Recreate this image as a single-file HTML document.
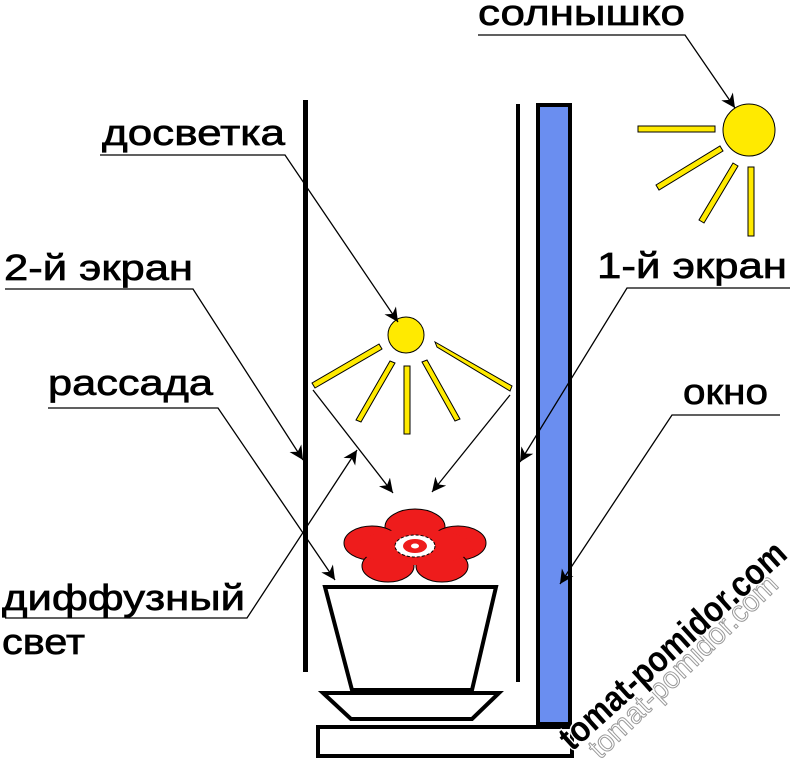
<!DOCTYPE html>
<html><head><meta charset="utf-8"><style>
html,body{margin:0;padding:0;background:#fff;}
svg{display:block;}
text{font-family:"Liberation Sans","DejaVu Sans",sans-serif;fill:#000;}
</style></head><body>
<svg width="790" height="760" viewBox="0 0 790 760" xmlns="http://www.w3.org/2000/svg">
<defs>
<marker id="a" viewBox="0 0 10 10" refX="10" refY="5" markerWidth="14" markerHeight="14" markerUnits="userSpaceOnUse" orient="auto">
<path d="M0,0 L10,5 L0,10 L3,5 z" fill="#000"/>
</marker>
</defs>
<!-- screens -->
<rect x="303" y="100" width="5" height="572" fill="#000"/>
<rect x="516" y="104" width="4" height="578" fill="#000"/>
<!-- window -->
<rect x="538" y="105" width="32" height="619" fill="#6a8ef0" stroke="#000" stroke-width="4"/>
<!-- sill -->
<rect x="318" y="727" width="254" height="29" fill="#fff" stroke="#000" stroke-width="4"/>
<!-- pot -->
<polygon points="325,587 496,587 472,690 352,690" fill="#fff" stroke="#000" stroke-width="4"/>
<polygon points="323,693 499,693 472,719 351,719" fill="#fff" stroke="#000" stroke-width="4"/>
<!-- flower -->
<g fill="#ee1c1c" stroke="#000" stroke-width="1">
<ellipse cx="415" cy="527" rx="30" ry="18"/>
<ellipse cx="372" cy="543" rx="28" ry="17"/>
<ellipse cx="458" cy="543" rx="28" ry="17"/>
<ellipse cx="388" cy="566" rx="26" ry="16"/>
<ellipse cx="442" cy="566" rx="26" ry="16"/>
</g>
<ellipse cx="415" cy="547" rx="58" ry="18" fill="#ee1c1c"/>
<ellipse cx="415" cy="546" rx="20" ry="11" fill="#fff" stroke="#000" stroke-width="1" stroke-dasharray="3 2"/>
<ellipse cx="415" cy="546" rx="12" ry="7" fill="#ee1c1c"/>
<ellipse cx="415" cy="546" rx="4" ry="2.5" fill="#fff"/>
<!-- small sun -->
<g fill="#ffea00" stroke="#000" stroke-width="1">
<circle cx="406" cy="335" r="18"/>
<polygon points="379,344 382,349 315,388 312,383"/>
<polygon points="390,361 395,363 361,422 356,420"/>
<rect x="404" y="366" width="6" height="68"/>
<polygon points="422,362 427,360 460,419 455,421"/>
<polygon points="435,342 437,347 510,391 512,386"/>
</g>
<!-- big sun -->
<g fill="#ffea00" stroke="#000" stroke-width="1">
<circle cx="749" cy="130" r="26"/>
<rect x="638" y="126" width="77" height="6"/>
<polygon points="720,146 723,151 659,190 656,185"/>
<polygon points="733,163 738,166 704,223 699,220"/>
<rect x="748" y="167" width="6" height="69"/>
</g>
<!-- labels -->
<g font-size="36" stroke="#000" stroke-width="0.7">
<text x="478" y="25" textLength="207" lengthAdjust="spacingAndGlyphs">солнышко</text>
<text x="102" y="145" textLength="183" lengthAdjust="spacingAndGlyphs">досветка</text>
<text x="4" y="280" textLength="189" lengthAdjust="spacingAndGlyphs">2-й экран</text>
<text x="597" y="278" textLength="190" lengthAdjust="spacingAndGlyphs">1-й экран</text>
<text x="48" y="395" textLength="165" lengthAdjust="spacingAndGlyphs">рассада</text>
<text x="683" y="404" textLength="85" lengthAdjust="spacingAndGlyphs">окно</text>
<text x="2" y="610" textLength="243" lengthAdjust="spacingAndGlyphs">диффузный</text>
<text x="2" y="654" textLength="83" lengthAdjust="spacingAndGlyphs">свет</text>
</g>
<g stroke="#000" stroke-width="1.3" fill="none">
<polyline points="478,35 685,35 735,108" marker-end="url(#a)"/>
<polyline points="100,155 285,155 398,322" marker-end="url(#a)"/>
<polyline points="5,289 193,289 303,460" marker-end="url(#a)"/>
<polyline points="790,288 627,288 520,462" marker-end="url(#a)"/>
<polyline points="48,408 218,408 335,580" marker-end="url(#a)"/>
<polyline points="780,415 672,415 560,584" marker-end="url(#a)"/>
<polyline points="5,618 247,618 357,450" marker-end="url(#a)"/>
<line x1="313" y1="390" x2="393" y2="493" marker-end="url(#a)"/>
<line x1="510" y1="395" x2="432" y2="492" marker-end="url(#a)"/>
</g>
<!-- watermark -->
<g transform="translate(600,760) rotate(-44)">
<text x="0" y="0" font-size="30" textLength="250" lengthAdjust="spacingAndGlyphs" style="fill:none;stroke:#999;stroke-width:1">tomat-pomidor.com</text>
</g>
<g transform="translate(572,752) rotate(-42)">
<text x="0" y="0" font-size="36" font-weight="bold" textLength="292" lengthAdjust="spacingAndGlyphs" style="fill:#000;stroke:#fff;stroke-width:3;paint-order:stroke">tomat-pomidor.com</text>
</g>
</svg>
</body></html>
